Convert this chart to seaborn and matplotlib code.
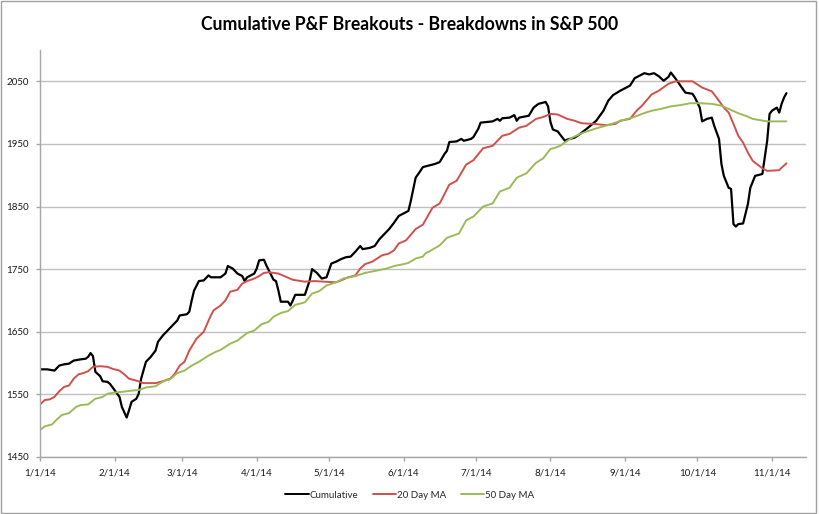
import pandas as pd
import matplotlib
matplotlib.use("Agg")
import matplotlib.pyplot as plt
import matplotlib.dates as mdates
from matplotlib.patches import Rectangle
import seaborn as sns

# --- Data (2014) ---
series_names = ["Cumulative", "20 Day MA", "50 Day MA"]

cum_dates = [
    "01-01", "01-04", "01-07", "01-09", "01-11", "01-13", "01-15", "01-18", "01-20", "01-21",
    "01-22", "01-23", "01-24", "01-26", "01-27", "01-29", "01-30", "01-31", "02-03", "02-04",
    "02-06", "02-07", "02-08", "02-10", "02-11", "02-12", "02-14", "02-16", "02-18", "02-19",
    "02-21", "02-23", "02-25", "02-27", "02-28", "03-03", "03-04", "03-05", "03-06", "03-08",
    "03-10", "03-12", "03-13", "03-17", "03-19", "03-20", "03-22", "03-24", "03-26", "03-27",
    "03-28", "03-31", "04-01", "04-02", "04-04", "04-05", "04-08", "04-09", "04-10", "04-11",
    "04-14", "04-15", "04-16", "04-17", "04-21", "04-23", "04-24", "04-26", "04-28", "04-30",
    "05-02", "05-04", "05-06", "05-08", "05-10", "05-12", "05-14", "05-15", "05-18", "05-20",
    "05-22", "05-24", "05-26", "05-28", "05-30", "06-01", "06-03", "06-04", "06-06", "06-08",
    "06-09", "06-12", "06-14", "06-16", "06-18", "06-19", "06-20", "06-23", "06-25", "06-26",
    "06-29", "06-30", "07-02", "07-03", "07-08", "07-10", "07-11", "07-12", "07-15", "07-17",
    "07-18", "07-19", "07-23", "07-25", "07-27", "07-30", "07-31", "08-01", "08-02", "08-04",
    "08-07", "08-08", "08-11", "08-13", "08-16", "08-20", "08-23", "08-25", "08-27", "08-30",
    "09-03", "09-05", "09-07", "09-09", "09-11", "09-13", "09-15", "09-17", "09-19", "09-20",
    "09-22", "09-24", "09-26", "09-29", "09-30", "10-02", "10-03", "10-05", "10-07", "10-08",
    "10-10", "10-11", "10-12", "10-14", "10-15", "10-16", "10-17", "10-18", "10-20", "10-22",
    "10-23", "10-25", "10-28", "10-29", "10-30", "10-31", "11-01", "11-03", "11-04", "11-05",
    "11-06", "11-07",
]
cum_values = [
    1590, 1590, 1588, 1596, 1598, 1599, 1604, 1606, 1607, 1610,
    1616, 1611, 1586, 1579, 1571, 1570, 1567, 1562, 1546, 1530,
    1513, 1525, 1538, 1543, 1551, 1575, 1602, 1610, 1620, 1634,
    1644, 1652, 1660, 1668, 1676, 1678, 1682, 1700, 1716, 1731,
    1732, 1740, 1737, 1737, 1743, 1755, 1751, 1743, 1739, 1731,
    1737, 1743, 1751, 1764, 1765, 1756, 1733, 1731, 1716, 1698,
    1698, 1692, 1700, 1709, 1709, 1732, 1750, 1744, 1735, 1737,
    1759, 1762, 1766, 1769, 1770, 1778, 1787, 1782, 1784, 1787,
    1798, 1806, 1814, 1824, 1835, 1839, 1843, 1859, 1896, 1907,
    1913, 1916, 1918, 1921, 1934, 1939, 1953, 1954, 1958, 1955,
    1958, 1961, 1974, 1984, 1986, 1990, 1987, 1991, 1992, 1996,
    1987, 1992, 1995, 2008, 2014, 2017, 2010, 1985, 1973, 1970,
    1955, 1957, 1960, 1965, 1974, 1987, 2003, 2019, 2028, 2035,
    2043, 2055, 2059, 2063, 2061, 2063, 2058, 2051, 2057, 2064,
    2054, 2043, 2032, 2030, 2024, 2008, 1986, 1990, 1992, 1979,
    1958, 1918, 1899, 1880, 1878, 1822, 1818, 1822, 1823, 1854,
    1880, 1899, 1902, 1928, 1955, 1998, 2003, 2008, 2000, 2014,
    2024, 2031,
]

ma20_dates = [
    "01-01", "01-03", "01-05", "01-07", "01-09", "01-11", "01-13", "01-15", "01-17", "01-19",
    "01-21", "01-23", "01-26", "01-29", "01-31", "02-03", "02-05", "02-07", "02-10", "02-13",
    "02-18", "02-21", "02-24", "02-26", "02-28", "03-02", "03-04", "03-07", "03-10", "03-12",
    "03-14", "03-17", "03-19", "03-21", "03-24", "03-26", "03-28", "03-31", "04-02", "04-04",
    "04-06", "04-10", "04-13", "04-16", "04-21", "04-25", "04-29", "05-04", "05-06", "05-09",
    "05-12", "05-14", "05-16", "05-19", "05-23", "05-26", "05-28", "05-30", "06-02", "06-06",
    "06-09", "06-13", "06-16", "06-20", "06-23", "06-27", "06-30", "07-04", "07-08", "07-12",
    "07-15", "07-19", "07-22", "07-26", "07-29", "08-01", "08-04", "08-08", "08-11", "08-14",
    "08-19", "08-24", "08-28", "08-30", "09-03", "09-06", "09-08", "09-12", "09-15", "09-19",
    "09-22", "09-29", "10-03", "10-07", "10-09", "10-12", "10-14", "10-16", "10-18", "10-20",
    "10-22", "10-24", "10-26", "10-28", "10-30", "11-04", "11-05", "11-07",
]
ma20_values = [
    1534, 1541, 1542, 1546, 1555, 1562, 1564, 1575, 1582, 1584,
    1587, 1594, 1595, 1594, 1591, 1588, 1582, 1575, 1572, 1568,
    1568, 1571, 1575, 1583, 1596, 1602, 1620, 1639, 1650, 1668,
    1684, 1692, 1700, 1714, 1717, 1727, 1731, 1735, 1739, 1744,
    1745, 1743, 1738, 1733, 1730, 1731, 1730, 1729, 1732, 1737,
    1740, 1751, 1758, 1762, 1772, 1775, 1780, 1791, 1796, 1814,
    1821, 1848, 1855, 1885, 1891, 1917, 1924, 1943, 1947, 1963,
    1966, 1976, 1979, 1990, 1993, 1998, 1997, 1990, 1987, 1983,
    1982, 1980, 1982, 1987, 1990, 2004, 2011, 2029, 2035, 2046,
    2050, 2050, 2040, 2034, 2024, 2008, 2000, 1982, 1963, 1952,
    1936, 1923, 1917, 1911, 1907, 1908, 1912, 1919,
]

ma50_dates = [
    "01-01", "01-03", "01-06", "01-08", "01-10", "01-13", "01-16", "01-18", "01-21", "01-24",
    "01-27", "01-29", "02-01", "02-04", "02-08", "02-11", "02-14", "02-18", "02-20", "02-22",
    "02-24", "02-27", "03-02", "03-05", "03-08", "03-12", "03-15", "03-17", "03-21", "03-24",
    "03-28", "03-31", "04-03", "04-06", "04-08", "04-11", "04-14", "04-17", "04-21", "04-24",
    "04-27", "04-30", "05-04", "05-07", "05-12", "05-16", "05-20", "05-25", "05-28", "06-01",
    "06-03", "06-06", "06-09", "06-10", "06-12", "06-16", "06-19", "06-24", "06-27", "06-30",
    "07-04", "07-08", "07-11", "07-15", "07-18", "07-22", "07-26", "07-29", "08-01", "08-03",
    "08-05", "08-08", "08-10", "08-14", "08-17", "08-21", "08-24", "08-28", "08-31", "09-04",
    "09-08", "09-12", "09-16", "09-20", "09-24", "09-28", "10-02", "10-07", "10-11", "10-14",
    "10-18", "10-21", "10-24", "10-30", "11-03", "11-07",
]
ma50_values = [
    1493, 1499, 1502, 1510, 1517, 1520, 1530, 1533, 1534, 1543,
    1546, 1551, 1553, 1554, 1556, 1557, 1561, 1563, 1568, 1572,
    1574, 1584, 1588, 1596, 1602, 1612, 1618, 1621, 1631, 1636,
    1648, 1652, 1662, 1666, 1674, 1680, 1683, 1693, 1697, 1711,
    1715, 1724, 1729, 1735, 1739, 1744, 1747, 1751, 1755, 1758,
    1760, 1767, 1770, 1775, 1779, 1788, 1800, 1807, 1828, 1834,
    1850, 1855, 1874, 1880, 1896, 1903, 1920, 1927, 1942, 1944,
    1947, 1955, 1960, 1967, 1971, 1976, 1979, 1984, 1988, 1992,
    1998, 2003, 2006, 2010, 2012, 2015, 2015, 2014, 2011, 2006,
    1999, 1995, 1990, 1986, 1986, 1986,
]

y_ticks = [1450, 1550, 1650, 1750, 1850, 1950, 2050]

# --- Long-form table ---
frames = []
for name, dates, vals in zip(series_names,
                             [cum_dates, ma20_dates, ma50_dates],
                             [cum_values, ma20_values, ma50_values]):
    frames.append(pd.DataFrame({
        "date": pd.to_datetime(["2014-" + d for d in dates]),
        "value": vals,
        "series": name,
    }))
df = pd.concat(frames, ignore_index=True)

# --- Plotting ---
sns.set_style("white")
plt.rcParams["font.family"] = ["Lato", "DejaVu Sans"]

fig = plt.figure(figsize=(8.2, 5.14), dpi=100)
ax = fig.add_axes([40 / 820, 1 - 457 / 514, 765.7 / 820, 407 / 514])

palette = {"Cumulative": "#000000", "20 Day MA": "#D0504C", "50 Day MA": "#9BBB59"}
sns.lineplot(data=df, x="date", y="value", hue="series", hue_order=series_names,
             palette=palette, estimator=None, sort=False, linewidth=1.4, ax=ax)
ax.lines[0].set_linewidth(1.6)

ax.set_xlim(pd.Timestamp("2014-01-01"), pd.Timestamp("2014-11-15"))
ax.set_ylim(1450, 2100)
ax.set_yticks(y_ticks)
ax.xaxis.set_major_locator(mdates.MonthLocator(bymonthday=1))
ax.xaxis.set_major_formatter(mdates.DateFormatter("%-m/%-d/%y"))
ax.set_xlabel("")
ax.set_ylabel("")

# gridlines and axis look
ax.yaxis.grid(True, color="#c0c0c0", linewidth=1.0)
ax.xaxis.grid(False)
for side in ["top", "right"]:
    ax.spines[side].set_visible(False)
for side in ["left", "bottom"]:
    ax.spines[side].set_color("#a6a6a6")
    ax.spines[side].set_linewidth(1.0)
ax.tick_params(axis="both", which="major", bottom=True, left=True, direction="out",
               length=3, width=1, color="#a6a6a6", labelsize=7, labelcolor="#1a1a1a")
ax.tick_params(axis="y", pad=5.3)
ax.tick_params(axis="x", pad=5)

# Legend at bottom
sns.move_legend(ax, "center", bbox_to_anchor=(0.5, 1 - 495 / 514),
                bbox_transform=fig.transFigure, ncol=3, frameon=False, title=None,
                fontsize=7, handlelength=2.4, handletextpad=0.1, columnspacing=1.5)

# Title
fig.text(0.5, 1 - 24 / 514, "Cumulative P&F Breakouts - Breakdowns in S&P 500",
         ha="center", va="center", fontsize=12.7, fontweight="bold", color="#000000")

# Chart border
fig.patches.append(Rectangle((1 / 820, 1 - 512.5 / 514), 815.5 / 820, 511.5 / 514,
                             transform=fig.transFigure, fill=False,
                             edgecolor="#a0a0a0", linewidth=1.0))

fig.savefig("out.png", dpi=100)
plt.close(fig)
